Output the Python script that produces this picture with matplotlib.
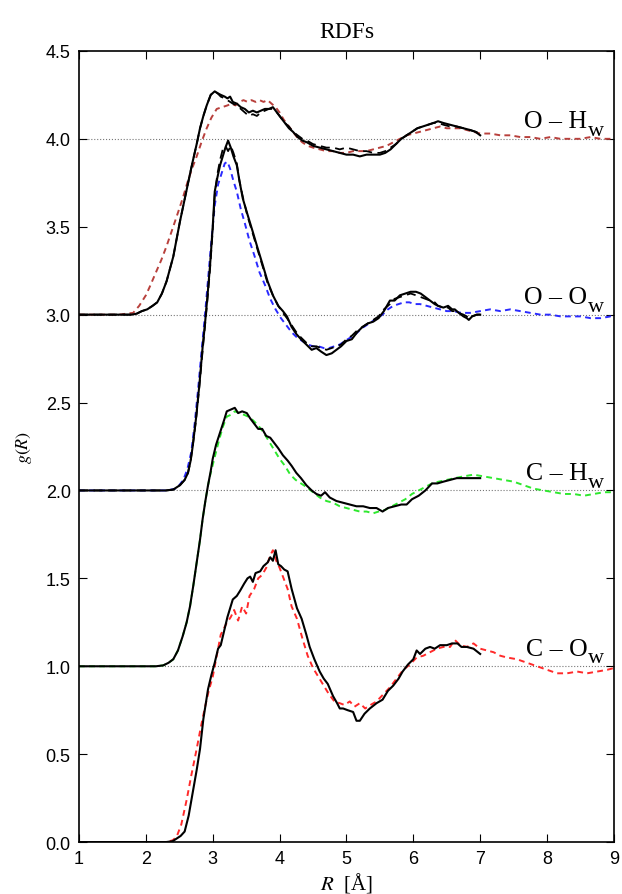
import numpy as np
import matplotlib
matplotlib.use('Agg')
import matplotlib.pyplot as plt

plt.rcParams['mathtext.fontset'] = 'stix'
plt.rcParams['font.family'] = ['Liberation Serif', 'DejaVu Serif']

# ---- C - O_w (baseline 0) ----
co_x = [1.0, 2.3, 2.40, 2.46, 2.52, 2.58, 2.64, 2.70, 2.76, 2.81, 2.86, 2.93, 2.98, 3.03,
        3.08, 3.12, 3.17, 3.22,
        3.30, 3.36, 3.41, 3.47, 3.52, 3.56, 3.60, 3.64, 3.71, 3.76, 3.82, 3.86, 3.90, 3.94, 3.98,
        4.02, 4.07, 4.12, 4.18, 4.26, 4.33, 4.40, 4.45, 4.52, 4.60, 4.66, 4.72, 4.80, 4.86, 4.90,
        4.95, 5.02, 5.10, 5.15, 5.20, 5.27, 5.35, 5.45, 5.54, 5.62, 5.70, 5.78, 5.84, 5.92, 6.00,
        6.05, 6.10, 6.18, 6.25, 6.32, 6.40, 6.50, 6.58, 6.66, 6.72, 6.80, 6.90, 7.0]
co_md = [0.0, 0.0, 0.005, 0.02, 0.035, 0.06, 0.15, 0.28, 0.41, 0.53, 0.70, 0.87, 0.95, 1.02,
         1.10, 1.12, 1.20, 1.28,
         1.38, 1.40, 1.43, 1.47, 1.50, 1.51, 1.48, 1.53, 1.54, 1.57, 1.59, 1.62, 1.60, 1.66, 1.58,
         1.57, 1.55, 1.54, 1.44, 1.33, 1.27, 1.18, 1.11, 1.04, 0.97, 0.93, 0.90, 0.83, 0.79, 0.76,
         0.76, 0.75, 0.74, 0.69, 0.69, 0.73, 0.76, 0.79, 0.81, 0.86, 0.89, 0.93, 0.97, 1.01, 1.04,
         1.09, 1.07, 1.10, 1.11, 1.10, 1.12, 1.12, 1.13, 1.13, 1.11, 1.11, 1.10, 1.07]
co_ref_x = [1.0, 2.3, 2.40, 2.46, 2.53, 2.61, 2.68, 2.76, 2.82, 2.88, 2.94, 3.00, 3.05,
            3.12, 3.20, 3.27,
            3.32, 3.38, 3.44, 3.50, 3.55, 3.62, 3.68, 3.74, 3.80, 3.86, 3.90, 3.95, 4.00, 4.06, 4.12,
            4.18, 4.26, 4.34, 4.42, 4.50, 4.58, 4.66, 4.74, 4.82, 4.90, 4.97, 5.05, 5.12, 5.20, 5.28,
            5.36, 5.45, 5.55, 5.65, 5.75, 5.85, 5.95, 6.05, 6.15, 6.25, 6.35, 6.45, 6.55, 6.62, 6.70,
            6.80, 6.90, 7.0, 7.1, 7.2, 7.3, 7.4, 7.55, 7.7, 7.85, 8.0, 8.15, 8.3, 8.45, 8.6, 8.75,
            8.9, 9.0]
co_ref = [0.0, 0.0, 0.01, 0.03, 0.10, 0.24, 0.38, 0.53, 0.65, 0.76, 0.86, 0.94, 1.04,
          1.18, 1.24, 1.28,
          1.32, 1.26, 1.34, 1.30, 1.40, 1.44, 1.50, 1.52, 1.56, 1.63, 1.66, 1.60, 1.56, 1.50, 1.44,
          1.34, 1.27, 1.16, 1.06, 0.99, 0.94, 0.89, 0.84, 0.80, 0.79, 0.78, 0.80, 0.77, 0.79, 0.76,
          0.78, 0.80, 0.84, 0.88, 0.93, 0.98, 1.01, 1.05, 1.06, 1.08, 1.10, 1.11, 1.11, 1.15, 1.12,
          1.11, 1.13, 1.10, 1.09, 1.08, 1.06, 1.05, 1.04, 1.02, 1.00, 0.98, 0.96, 0.96, 0.97, 0.96, 0.97,
          0.98, 0.99]

# ---- C - H_w (baseline 1) ----
ch_x = [1.0, 2.15, 2.26, 2.34, 2.41, 2.48, 2.55, 2.61, 2.66, 2.71, 2.76, 2.81, 2.85, 2.89, 2.93,
        2.97, 3.00, 3.05, 3.11, 3.17, 3.21,
        3.27, 3.33, 3.38, 3.44, 3.51, 3.56, 3.62, 3.68, 3.74, 3.80, 3.86, 3.92,
        3.98, 4.05, 4.12, 4.18, 4.25, 4.32, 4.40, 4.48, 4.55, 4.62, 4.68, 4.75, 4.85, 4.95, 5.05,
        5.15, 5.25, 5.35, 5.45, 5.54, 5.62, 5.72, 5.82, 5.90, 5.98, 6.08, 6.18, 6.28, 6.36, 6.45,
        6.55, 6.65, 6.75, 6.85, 7.0]
ch_md = [1.0, 1.0, 1.005, 1.02, 1.04, 1.09, 1.17, 1.25, 1.34, 1.46, 1.59, 1.72, 1.84, 1.94, 2.03,
         2.11, 2.18, 2.26, 2.33, 2.40, 2.45,
         2.46, 2.47, 2.44, 2.45, 2.44, 2.41, 2.38, 2.35, 2.35, 2.31, 2.30, 2.27,
         2.24, 2.20, 2.17, 2.14, 2.10, 2.07, 2.03, 2.00, 1.98, 1.97, 1.99, 1.96, 1.94, 1.93, 1.92,
         1.91, 1.91, 1.90, 1.90, 1.88, 1.90, 1.91, 1.92, 1.92, 1.95, 1.97, 2.00, 2.04, 2.04, 2.05,
         2.06, 2.07, 2.07, 2.07, 2.07]
ch_ref_x = [1.0, 2.15, 2.26, 2.34, 2.41, 2.48, 2.55, 2.61, 2.66, 2.71, 2.76, 2.81, 2.85, 2.89, 2.93,
            2.97, 3.03, 3.09, 3.15, 3.21,
            3.27, 3.33, 3.40, 3.47, 3.53, 3.60, 3.68, 3.76, 3.84, 3.92, 4.00, 4.08, 4.16,
            4.24, 4.32, 4.40, 4.50, 4.60, 4.70, 4.80, 4.90, 5.00, 5.10, 5.20, 5.30, 5.40, 5.48, 5.58,
            5.68, 5.78, 5.88, 5.98, 6.08, 6.18, 6.28, 6.38, 6.50, 6.62, 6.75, 6.90, 7.05, 7.2, 7.35,
            7.5, 7.65, 7.8, 7.95, 8.1, 8.25, 8.4, 8.55, 8.7, 8.85, 9.0]
ch_ref = [1.0, 1.0, 1.005, 1.02, 1.04, 1.09, 1.17, 1.25, 1.34, 1.46, 1.59, 1.72, 1.84, 1.94, 2.03,
          2.10, 2.19, 2.28, 2.36, 2.42,
          2.43, 2.45, 2.44, 2.43, 2.42, 2.40, 2.37, 2.33, 2.28, 2.23, 2.18, 2.14, 2.09,
          2.06, 2.04, 2.02, 1.99, 1.96, 1.94, 1.93, 1.91, 1.90, 1.89, 1.88, 1.88, 1.87, 1.88, 1.89,
          1.91, 1.93, 1.95, 1.98, 2.00, 2.02, 2.04, 2.05, 2.06, 2.07, 2.08, 2.09, 2.08, 2.07, 2.06,
          2.05, 2.03, 2.01, 2.00, 1.99, 1.98, 1.98, 1.97, 1.98, 1.99, 1.99]

# ---- O - O_w (baseline 2) ----
oo_x = [1.0, 2.3, 2.41, 2.51, 2.58, 2.63, 2.67, 2.70, 2.75, 2.80, 2.85, 2.88, 2.92, 2.96,
        3.00, 3.03, 3.07, 3.11, 3.15, 3.19, 3.23, 3.27, 3.31, 3.36, 3.40, 3.45, 3.52, 3.60, 3.67,
        3.75, 3.82, 3.90, 3.98, 4.05, 4.11, 4.18, 4.25, 4.32, 4.40, 4.48, 4.55, 4.62, 4.70, 4.78,
        4.85, 4.92, 5.00, 5.08, 5.16, 5.24, 5.32, 5.40, 5.48, 5.56, 5.65, 5.72, 5.80, 5.88, 5.96,
        6.04, 6.11, 6.18, 6.25, 6.32, 6.37, 6.45, 6.52, 6.58, 6.62, 6.68, 6.75, 6.80, 6.83, 6.88,
        6.95, 7.0]
oo_md = [2.0, 2.0, 2.005, 2.03, 2.06, 2.10, 2.17, 2.25, 2.41, 2.60, 2.82, 2.93, 3.10, 3.28,
         3.50, 3.70, 3.78, 3.85, 3.90, 3.95, 3.99, 3.95, 3.90, 3.85, 3.76, 3.66, 3.57, 3.47, 3.38,
         3.28, 3.19, 3.11, 3.05, 3.02, 2.99, 2.93, 2.89, 2.86, 2.83, 2.80, 2.81, 2.79, 2.77, 2.78,
         2.80, 2.82, 2.85, 2.86, 2.90, 2.93, 2.95, 2.96, 2.98, 3.02, 3.08, 3.08, 3.11, 3.12, 3.13,
         3.13, 3.12, 3.10, 3.08, 3.06, 3.05, 3.04, 3.05, 3.03, 3.03, 3.01, 2.99, 2.98, 2.97, 2.99,
         3.00, 3.00]
oo_md2 = [2.0, 2.0, 2.005, 2.03, 2.06, 2.10, 2.17, 2.25, 2.40, 2.59, 2.80, 2.92, 3.08, 3.26,
          3.48, 3.68, 3.80, 3.88, 3.94, 3.96, 3.93, 3.96, 3.92, 3.86, 3.76, 3.67, 3.56, 3.46, 3.37,
          3.27, 3.18, 3.11, 3.05, 3.01, 2.98, 2.94, 2.90, 2.87, 2.84, 2.82, 2.82, 2.81, 2.80, 2.81,
          2.82, 2.83, 2.86, 2.88, 2.91, 2.93, 2.95, 2.97, 2.99, 3.03, 3.06, 3.09, 3.10, 3.11, 3.12,
          3.11, 3.10, 3.09, 3.08, 3.07, 3.05, 3.04, 3.04, 3.02, 3.02, 3.01, 3.00, 2.99, 2.98, 2.99,
          3.00, 3.00]
oo_ref_x = [1.0, 2.3, 2.38, 2.44, 2.50, 2.56, 2.62, 2.68, 2.73, 2.78, 2.83, 2.88, 2.93, 2.98, 3.03,
            3.08, 3.13, 3.18, 3.22, 3.26, 3.31, 3.36, 3.42, 3.48, 3.55, 3.62, 3.70, 3.78, 3.86, 3.94,
            4.02, 4.10, 4.18, 4.26, 4.34, 4.42, 4.50, 4.58, 4.66, 4.74, 4.82, 4.90, 4.98, 5.06, 5.14,
            5.22, 5.30, 5.38, 5.46, 5.54, 5.62, 5.70, 5.78, 5.86, 5.94, 6.02, 6.10, 6.20, 6.30, 6.40,
            6.50, 6.60, 6.72, 6.85, 7.0, 7.15, 7.3, 7.45, 7.6, 7.75, 7.9, 8.05, 8.2, 8.35, 8.5,
            8.65, 8.8, 8.95, 9.0]
oo_ref = [2.0, 2.0, 2.005, 2.01, 2.03, 2.06, 2.12, 2.22, 2.38, 2.57, 2.78, 2.98, 3.20, 3.42, 3.62,
          3.74, 3.80, 3.86, 3.87, 3.83, 3.76, 3.70, 3.60, 3.52, 3.42, 3.34, 3.24, 3.17, 3.09, 3.03,
          2.98, 2.94, 2.90, 2.87, 2.85, 2.83, 2.82, 2.82, 2.81, 2.81, 2.82, 2.83, 2.85, 2.87, 2.89,
          2.92, 2.94, 2.96, 2.98, 3.00, 3.03, 3.05, 3.06, 3.07, 3.07, 3.06, 3.06, 3.05, 3.04, 3.03,
          3.02, 3.02, 3.01, 3.01, 3.02, 3.03, 3.02, 3.03, 3.02, 3.01, 3.00, 3.00, 2.99, 2.99, 2.99,
          2.98, 2.98, 2.99, 2.98]

# ---- O - H_w (baseline 3) ----
oh_x = [1.0, 1.78, 1.86, 1.94, 2.02, 2.10, 2.17, 2.24, 2.31, 2.36, 2.41, 2.46, 2.51, 2.56, 2.61,
        2.66, 2.70, 2.76, 2.81, 2.86, 2.91, 2.97, 3.03,
        3.07, 3.12, 3.18, 3.22, 3.26, 3.30, 3.36, 3.42, 3.48, 3.54, 3.60, 3.66, 3.72, 3.78, 3.84,
        3.90, 3.96, 4.02, 4.08, 4.14, 4.20, 4.27, 4.34, 4.41, 4.50, 4.60, 4.70, 4.80, 4.90, 5.00,
        5.10, 5.20, 5.30, 5.40, 5.50, 5.58, 5.66, 5.74, 5.82, 5.90, 5.98, 6.06, 6.14, 6.22, 6.30,
        6.37, 6.45, 6.55, 6.65, 6.75, 6.85, 6.93, 7.0]
oh_md = [3.0, 3.0, 3.005, 3.02, 3.03, 3.05, 3.07, 3.12, 3.19, 3.26, 3.33, 3.43, 3.53, 3.62, 3.71,
         3.80, 3.87, 3.97, 4.06, 4.13, 4.19, 4.25, 4.27,
         4.26, 4.25, 4.24, 4.23, 4.24, 4.21, 4.20, 4.18, 4.17, 4.15, 4.16, 4.15, 4.16, 4.17, 4.17,
         4.18, 4.15, 4.12, 4.09, 4.06, 4.04, 4.01, 3.99, 3.98, 3.96, 3.95, 3.94, 3.93, 3.92, 3.91,
         3.91, 3.90, 3.91, 3.91, 3.91, 3.92, 3.94, 3.97, 4.00, 4.02, 4.04, 4.06, 4.07, 4.08, 4.09,
         4.10, 4.09, 4.08, 4.07, 4.06, 4.05, 4.04, 4.02]
oh_md2 = [3.0, 3.0, 3.005, 3.02, 3.03, 3.05, 3.07, 3.12, 3.19, 3.26, 3.33, 3.43, 3.53, 3.62, 3.71,
          3.80, 3.87, 3.97, 4.06, 4.13, 4.19, 4.25, 4.27,
          4.26, 4.24, 4.23, 4.22, 4.21, 4.20, 4.19, 4.17, 4.15, 4.13, 4.14, 4.13, 4.15, 4.16, 4.17,
          4.17, 4.15, 4.12, 4.09, 4.07, 4.04, 4.02, 4.00, 3.99, 3.97, 3.96, 3.95, 3.95, 3.94, 3.95,
          3.94, 3.93, 3.93, 3.92, 3.92, 3.93, 3.95, 3.97, 4.00, 4.02, 4.04, 4.06, 4.07, 4.08, 4.09,
          4.09, 4.08, 4.07, 4.07, 4.06, 4.05, 4.04, 4.03]
oh_ref_x = [1.0, 1.6, 1.7, 1.81, 1.9, 2.0, 2.06, 2.15, 2.23, 2.31, 2.40, 2.48, 2.55, 2.62, 2.70,
            2.76, 2.84, 2.91, 2.98, 3.06, 3.14, 3.22,
            3.28, 3.34, 3.40, 3.46, 3.52, 3.58, 3.64, 3.70, 3.76, 3.82, 3.88, 3.94, 4.00, 4.06, 4.12,
            4.18, 4.26, 4.34, 4.42, 4.50, 4.60, 4.70, 4.80, 4.90, 5.00, 5.10, 5.20, 5.30, 5.40, 5.50,
            5.60, 5.70, 5.80, 5.90, 6.00, 6.10, 6.20, 6.30, 6.40, 6.50, 6.60, 6.70, 6.80, 6.90, 7.0,
            7.15, 7.3, 7.45, 7.6, 7.75, 7.9, 8.05, 8.2, 8.35, 8.5, 8.65, 8.8, 9.0]
oh_ref = [3.0, 3.0, 3.005, 3.01, 3.05, 3.11, 3.16, 3.24, 3.31, 3.39, 3.49, 3.58, 3.66, 3.75, 3.84,
          3.90, 3.99, 4.06, 4.12, 4.17, 4.18, 4.19,
          4.20, 4.19, 4.21, 4.22, 4.21, 4.22, 4.21, 4.22, 4.21, 4.22, 4.20, 4.18, 4.15, 4.11, 4.08,
          4.05, 4.01, 3.98, 3.96, 3.95, 3.94, 3.93, 3.93, 3.92, 3.92, 3.93, 3.93, 3.93, 3.94, 3.95,
          3.96, 3.98, 4.00, 4.02, 4.03, 4.04, 4.05, 4.06, 4.07, 4.06, 4.06, 4.06, 4.05, 4.04, 4.03,
          4.03, 4.02, 4.02, 4.01, 4.01, 4.00, 4.01, 4.00, 4.00, 4.00, 4.01, 4.00, 4.00]

baselines = [1.0, 2.0, 3.0, 4.0]
pair_names = [('C – O', 'w'), ('C – H', 'w'), ('O – O', 'w'), ('O – H', 'w')]

fig = plt.figure(figsize=(6.22, 8.95), dpi=100)
ax = fig.add_axes([0.127, 0.058, 0.860, 0.884])

for b in baselines:
    ax.axhline(b, color='#777777', ls=':', lw=0.8, zorder=1)

dash = (0, (3, 2.2))
ax.plot(co_ref_x, co_ref, color='#ff2a2a', ls=dash, lw=1.4, zorder=2)
ax.plot(ch_ref_x, ch_ref, color='#2ee82e', ls=dash, lw=1.4, zorder=2)
ax.plot(oo_ref_x, oo_ref, color='#2a2aff', ls=dash, lw=1.4, zorder=2)
ax.plot(oh_ref_x, oh_ref, color='#b8403c', ls=dash, lw=1.4, zorder=2)

ax.plot(oo_x, oo_md2, color='black', ls=(0, (5, 3)), lw=1.3, zorder=3)
ax.plot(oh_x, oh_md2, color='black', ls=(0, (5, 3)), lw=1.3, zorder=3)

ax.plot(co_x, co_md, color='black', lw=1.5, zorder=4)
ax.plot(ch_x, ch_md, color='black', lw=1.5, zorder=4)
ax.plot(oo_x, oo_md, color='black', lw=1.5, zorder=4)
ax.plot(oh_x, oh_md, color='black', lw=1.5, zorder=4)

# pair labels: main text + large lowered subscript
for b, (main, sub) in zip(baselines, pair_names):
    ax.text(8.60, b + 0.065, main, ha='right', va='baseline', fontsize=18.5)
    ax.text(8.61, b + 0.022, sub, ha='left', va='baseline', fontsize=16)

ax.set_xlim(1, 9)
ax.set_ylim(0, 4.5)
ax.set_xticks(np.arange(1, 10, 1))
ax.set_yticks(np.arange(0, 4.51, 0.5))
ax.set_yticklabels(['%.1f' % v for v in np.arange(0, 4.51, 0.5)])
ax.tick_params(direction='in', top=True, right=True, length=6, width=0.8,
               labelsize=13, pad=6)
for lab in ax.get_xticklabels() + ax.get_yticklabels():
    lab.set_family('Liberation Sans')
for s in ax.spines.values():
    s.set_linewidth(1.2)

ax.set_title('RDFs', fontsize=17, pad=10)
ax.set_xlabel('$R$  [Å]', fontsize=15, labelpad=2)
ax.set_ylabel('$g(R)$', fontsize=13, labelpad=8)

fig.savefig('out.png', dpi=100)
